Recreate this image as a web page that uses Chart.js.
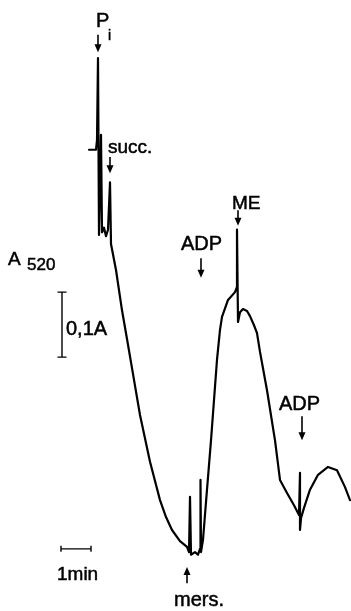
<!DOCTYPE html>
<html>
<head>
<meta charset="utf-8">
<script src="https://cdn.jsdelivr.net/npm/chart.js@4.4.1/dist/chart.umd.min.js"></script>
<style>
  html, body { margin: 0; padding: 0; background: #fff; }
  canvas { display: block; }
</style>
</head>
<body>
<canvas id="trace" width="351" height="611"></canvas>
<script>
// ====== DATA ======
// time (s) from start of recording, absorbance change at 520 nm (mA)
const times = [
  0, 14, 16, 18, 20, 24, 26, 30, 34, 38, 42, 44, 54, 66, 78, 86, 102, 122, 142, 154,
  166, 182, 196, 200, 202, 204, 212, 218, 222, 223, 224, 228, 236, 244, 256, 262, 266, 278, 292, 296,
  296, 298, 302, 308, 316, 322, 330, 336, 342, 356, 372, 382, 396, 410, 420, 422, 422, 424, 430, 442,
  458, 478, 496, 512, 522
];
const absorbance = [
  625, 625, 640, 766, 494, 648, 498, 505, 492, 502, 575, 480, 440, 378, 325, 289, 217, 145, 86, 60,
  40, 23, 14, 6, 91, 2, 6, 2, 11, 117, 6, 25, 102, 178, 302, 348, 368, 394, 406, 414,
  502, 360, 375, 380, 377, 369, 355, 343, 314, 255, 178, 117, 97, 78, 63, 128, 40, 58, 74, 102,
  125, 137, 132, 106, 86
];

// additions: [time, arrow tail level, arrow tip level]
const arrows = [
  [18, 802, 775],    // Pi
  [42, 614, 589],    // succ.
  [224, 458, 428],   // ADP
  [298, 532, 508],   // ME
  [426, 215, 178],   // ADP
  [196, -42, -17]    // mers.
];

// labels: [text, time, level, font size]
const labels = [
  ["P", 14, 814, 20],
  ["i", 38, 794, 14],
  ["succ.", 38, 620, 19],
  ["ADP", 184, 471, 20],
  ["ME", 286, 534, 19],
  ["ADP", 380, 225, 20],
  ["mers.", 170, -77, 20],
  ["A", -162, 448, 19],
  ["520", -124, 440, 17],
  ["0,1A", -46, 340, 20],
  ["1min", -64, -37, 19]
];

// calibration bars
const timeBar = { t: -56, level: 11, length: 60 };     // 1 min
const absBar = { t: -54, level: 306, length: 100 };    // 0.1 A

// ====== DRAW HELPERS ======
function drawArrow(ctx, x, y1, y2) {
  const dir = y2 > y1 ? 1 : -1;
  ctx.beginPath();
  ctx.moveTo(x, y1);
  ctx.lineTo(x, y2 - dir * 4);
  ctx.stroke();
  ctx.beginPath();
  ctx.moveTo(x, y2);
  ctx.lineTo(x - 3.5, y2 - dir * 8);
  ctx.lineTo(x + 3.5, y2 - dir * 8);
  ctx.closePath();
  ctx.fill();
}

const annotations = {
  id: "annotations",
  afterDatasetsDraw(chart) {
    const ctx = chart.ctx;
    const xs = chart.scales.x;
    const ys = chart.scales.y;
    ctx.save();
    ctx.strokeStyle = "#000";
    ctx.fillStyle = "#000";
    ctx.lineWidth = 1.6;

    arrows.forEach(a => {
      drawArrow(ctx, xs.getPixelForValue(a[0]), ys.getPixelForValue(a[1]), ys.getPixelForValue(a[2]));
    });

    // text, slightly stroked to look like the printed lettering
    ctx.textAlign = "left";
    ctx.textBaseline = "alphabetic";
    ctx.lineWidth = 0.5;
    labels.forEach(l => {
      const x = xs.getPixelForValue(l[1]);
      const y = ys.getPixelForValue(l[2]);
      ctx.font = l[3] + 'px "Liberation Sans", Arial, sans-serif';
      ctx.fillText(l[0], x, y);
      ctx.strokeText(l[0], x, y);
    });

    // 1 min bar
    const bx1 = xs.getPixelForValue(timeBar.t);
    const bx2 = xs.getPixelForValue(timeBar.t + timeBar.length);
    const by = ys.getPixelForValue(timeBar.level);
    ctx.lineWidth = 1.4;
    ctx.beginPath();
    ctx.moveTo(bx1, by); ctx.lineTo(bx2, by);
    ctx.moveTo(bx1, by - 3); ctx.lineTo(bx1, by + 3);
    ctx.moveTo(bx2, by - 3); ctx.lineTo(bx2, by + 3);
    ctx.stroke();

    // 0.1 A bar
    const ax = xs.getPixelForValue(absBar.t);
    const ay1 = ys.getPixelForValue(absBar.level);
    const ay2 = ys.getPixelForValue(absBar.level + absBar.length);
    ctx.beginPath();
    ctx.moveTo(ax, ay1); ctx.lineTo(ax, ay2);
    ctx.moveTo(ax - 4.5, ay1); ctx.lineTo(ax + 4.5, ay1);
    ctx.moveTo(ax - 4.5, ay2); ctx.lineTo(ax + 4.5, ay2);
    ctx.stroke();

    ctx.restore();
  }
};

// ====== CHART ======
new Chart(document.getElementById("trace"), {
  type: "line",
  data: {
    datasets: [{
      data: times.map((t, i) => ({ x: t, y: absorbance[i] })),
      borderColor: "#000",
      borderWidth: 2.2,
      borderJoinStyle: "round",
      borderCapStyle: "round",
      pointRadius: 0,
      tension: 0,
      fill: false
    }]
  },
  options: {
    responsive: false,
    animation: false,
    events: [],
    layout: { padding: 0 },
    plugins: {
      legend: { display: false },
      tooltip: { enabled: false }
    },
    scales: {
      x: { type: "linear", min: -178, max: 524, display: false },
      y: { type: "linear", min: -84.6, max: 855.4, display: false }
    }
  },
  plugins: [annotations]
});
</script>
</body>
</html>
